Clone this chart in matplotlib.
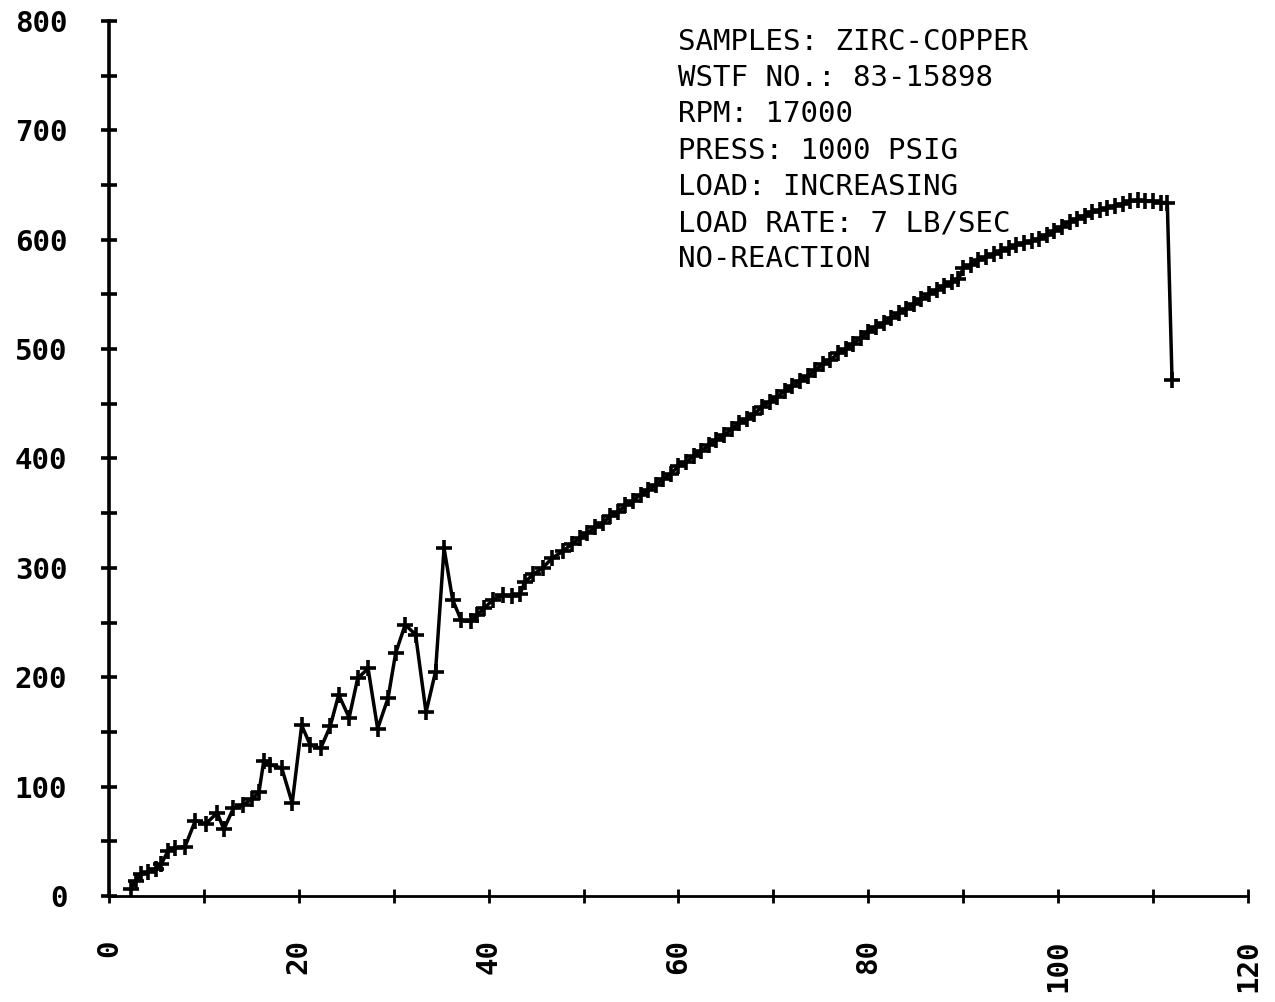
import matplotlib.pyplot as plt
from matplotlib.ticker import MultipleLocator

# values (x axis 0-120, y axis 0-800)
time_x = [2.3, 2.8, 3.4, 4.1, 4.9, 5.5, 6.2, 6.9, 8.0, 9.1,
          10.2, 11.4, 12.1, 13.1, 14.1, 15.1, 15.8, 16.3, 17.0, 18.2,
          19.3, 20.3, 21.2, 22.3, 23.3, 24.2, 25.3, 26.2, 27.3, 28.3,
          29.4, 30.2, 31.2, 32.3, 33.4, 34.4, 35.3, 36.2, 37.1, 38.1,
          38.8, 39.5, 40.5, 41.5, 42.5, 43.3, 43.8, 44.7, 45.7, 46.7,
          47.8, 48.8, 49.6, 50.4, 51.2, 52.0, 52.8, 53.6, 54.4, 55.2,
          56.0, 56.8, 57.6, 58.4, 59.2, 60.0, 60.8, 61.6, 62.4, 63.2,
          64.0, 64.8, 65.6, 66.4, 67.2, 68.0, 68.8, 69.6, 70.4, 71.2,
          72.0, 72.8, 73.6, 74.4, 75.2, 76.0, 76.8, 77.6, 78.4, 79.2,
          80.0, 80.8, 81.6, 82.4, 83.2, 84.0, 84.8, 85.6, 86.4, 87.2,
          88.0, 88.8, 89.5, 90.0, 90.8, 91.6, 92.4, 93.2, 94.0, 94.8,
          95.6, 96.4, 97.2, 98.0, 98.8, 99.6, 100.4, 101.2, 102.0, 102.8,
          103.6, 104.4, 105.2, 106.0, 106.8, 107.6, 108.4, 109.2, 110.0, 110.8,
          111.5, 112.0]
load_y = [6, 14, 20, 22, 25, 29, 41, 44, 45, 69,
          66, 76, 61, 80, 83, 89, 95, 123, 120, 117,
          85, 156, 138, 135, 155, 184, 163, 199, 208, 153,
          181, 222, 248, 239, 168, 205, 318, 271, 252, 251,
          257, 263, 271, 275, 274, 276, 287, 294, 300, 309,
          315, 322, 327, 332, 337, 341, 347, 351, 357, 361,
          367, 371, 376, 381, 386, 393, 397, 402, 407, 412,
          417, 421, 427, 432, 436, 441, 447, 452, 456, 462,
          466, 471, 475, 481, 486, 490, 496, 500, 505, 510,
          516, 520, 524, 528, 533, 537, 541, 546, 550, 554,
          558, 561, 564, 574, 577, 581, 584, 587, 590, 592,
          595, 597, 599, 601, 604, 608, 612, 616, 619, 622,
          625, 627, 629, 631, 633, 635, 636, 635, 635, 634,
          634, 472]

notes = ['SAMPLES: ZIRC-COPPER',
         'WSTF NO.: 83-15898',
         'RPM: 17000',
         'PRESS: 1000 PSIG',
         'LOAD: INCREASING',
         'LOAD RATE: 7 LB/SEC',
         'NO-REACTION']

plt.rcParams['font.family'] = ['DejaVu Sans Mono']

fig = plt.figure(figsize=(12.75, 10.02), dpi=100)
ax = fig.add_axes([0.0855, 0.1058, 0.8933, 0.8733])

ax.plot(time_x, load_y, color='black', lw=2.5, marker='+',
        markersize=12, markeredgewidth=2.6)

ax.set_xlim(0, 120)
ax.set_ylim(0, 800)
ax.xaxis.set_major_locator(MultipleLocator(20))
ax.xaxis.set_minor_locator(MultipleLocator(10))
ax.yaxis.set_major_locator(MultipleLocator(100))
ax.yaxis.set_minor_locator(MultipleLocator(50))

for side in ['top', 'right']:
    ax.spines[side].set_visible(False)
ax.spines['left'].set_linewidth(2.6)
ax.spines['bottom'].set_linewidth(2.0)

ax.tick_params(axis='y', which='both', direction='inout', length=12,
               width=2.6, pad=24, labelsize=21)
ax.tick_params(axis='x', which='both', direction='inout', length=10,
               width=2.0, pad=26, labelsize=21)
ax.tick_params(axis='x', which='major', labelrotation=90)
for lab in ax.get_xticklabels() + ax.get_yticklabels():
    lab.set_fontweight('bold')

for i, line in enumerate(notes):
    fig.text(0.532, 1 - (42 + 36.2 * i) / 1002, line, fontsize=21,
             ha='left', va='center')

fig.savefig('out.png', dpi=100)
